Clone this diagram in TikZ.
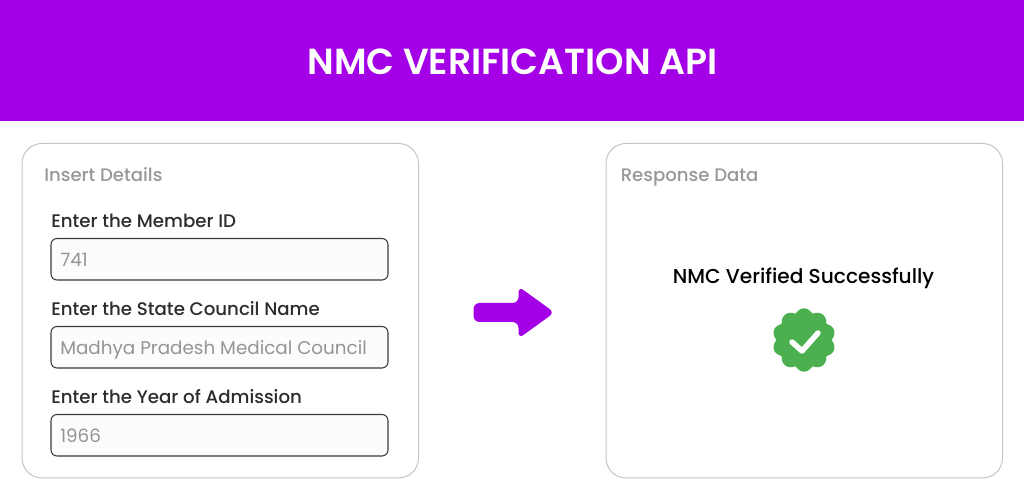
\documentclass[tikz,border=0pt]{standalone}
\usepackage{fontspec}
\setmainfont{Poppins}
\newfontfamily\medfont{Poppins Medium}
\newfontfamily\semifont{Poppins SemiBold}
\definecolor{brandpurple}{HTML}{A300E8}
\definecolor{headgrey}{HTML}{989898}
\definecolor{valgrey}{HTML}{949494}
\definecolor{labelink}{HTML}{2C2C2C}
\definecolor{panelline}{HTML}{C4C4C4}
\definecolor{fieldline}{HTML}{3A3A3A}
\definecolor{badgegreen}{HTML}{4CAF50}
\tikzset{
  x=0.75pt,y=-0.75pt,
  panelbox/.style={draw=panelline,line width=0.75pt,fill=white,rounded corners=15pt},
  fieldbox/.style={draw=fieldline,line width=0.8pt,fill=black!1,rounded corners=4.5pt},
  headtext/.style={anchor=base west,inner sep=0pt,text=headgrey,font=\medfont\fontsize{13.6}{16}\selectfont},
  labeltext/.style={anchor=base west,inner sep=0pt,text=labelink,font=\medfont\fontsize{13.65}{16}\selectfont},
  valtext/.style={anchor=base west,inner sep=0pt,text=valgrey,font=\fontsize{13.77}{16}\selectfont},
}
\begin{document}
\begin{tikzpicture}
\useasboundingbox (0,0) rectangle (1024,498);
\fill[white] (0,0) rectangle (1024,498);
\fill[brandpurple] (0,0) rectangle (1024,121);
\node[anchor=base,inner sep=0pt,text=white,font=\semifont\fontsize{27.2}{32}\selectfont] (title) at (512.5,75) {NMC VERIFICATION API};
% panels
\draw[panelbox] (22,143.5) rectangle (418.5,478);
\draw[panelbox] (606,143.5) rectangle (1002.5,478);
\node[headtext] (insert) at (44,182) {Insert Details};
\node[headtext] (response) at (620.5,182) {Response Data};
% fields
\node[labeltext] (l1) at (51,228) {Enter the Member ID};
\draw[fieldbox] (51,238.5) rectangle (388,280);
\node[valtext] (v1) at (60,267) {741};
\node[labeltext] (l2) at (51,316) {Enter the State Council Name};
\draw[fieldbox] (51,326.5) rectangle (388,368);
\node[valtext] (v2) at (60,355) {Madhya Pradesh Medical Council};
\node[labeltext] (l3) at (51,404) {Enter the Year of Admission};
\draw[fieldbox] (51,414.5) rectangle (388,456);
\node[valtext] (v3) at (60,443) {1966};
% arrow
\fill[brandpurple,rounded corners=4.5pt] (473.5,303) -- (518.5,303) -- (518.5,286.5) -- (554.5,312.5) -- (518.5,338.5) -- (518.5,322) -- (473.5,322) -- cycle;
% result
\node[anchor=base,inner sep=0pt,text=black,font=\medfont\fontsize{15.1}{18}\selectfont] (ok) at (803.5,284) {NMC Verified Successfully};
\fill[badgegreen] plot[domain=0:360,samples=361] ({804+(27.6+4*abs(cos(5*(\x-90))))*cos(\x)},{340+(27.6+4*abs(cos(5*(\x-90))))*sin(\x)}) -- cycle;
\draw[white,line width=4.1pt,line cap=round,line join=round] (792,342) -- (802,351) -- (818,333);
\end{tikzpicture}
\end{document}
